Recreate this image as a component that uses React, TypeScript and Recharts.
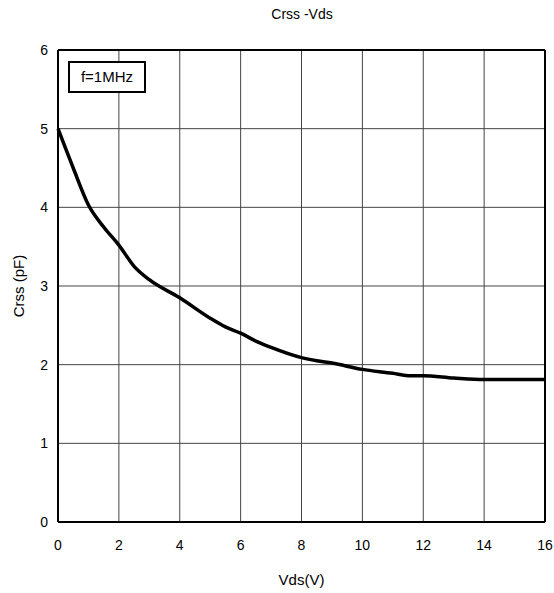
import { LineChart, Line, XAxis, YAxis, CartesianGrid, ReferenceLine, Label } from 'recharts';

const vds = [0, 0.5, 1, 1.5, 2, 2.5, 3, 4, 5, 5.5, 6, 6.5, 7, 8, 8.5, 9, 10, 11, 11.5, 12, 13, 14, 15, 16];
const crss = [5.0, 4.5, 4.03, 3.75, 3.52, 3.25, 3.08, 2.85, 2.59, 2.48, 2.4, 2.3, 2.22, 2.09, 2.05, 2.02, 1.94, 1.89, 1.86, 1.86, 1.83, 1.81, 1.81, 1.81];
const xTicks = [0, 2, 4, 6, 8, 10, 12, 14, 16];
const yTicks = [0, 1, 2, 3, 4, 5, 6];

const data = vds.map((v, i) => ({ vds: v, crss: crss[i] }));

const font = '"Liberation Sans", Arial, sans-serif';
const tickStyle = { fontSize: 14, fill: '#000', fontFamily: font };

export default function App() {
  return (
    <div style={{ position: 'absolute', left: 0, top: 0, width: 554, height: 593, background: '#fff', fontFamily: font }}>
      <div style={{ position: 'absolute', left: 0, width: 554, top: 6, paddingLeft: 50, boxSizing: 'border-box', textAlign: 'center', fontSize: 14 }}>
        Crss -Vds
      </div>
      <LineChart width={554} height={593} data={data} margin={{ top: 50, right: 9, bottom: 0, left: 0 }}>
        <CartesianGrid stroke="#444" strokeWidth={1} verticalValues={xTicks} horizontalValues={yTicks} />
        <XAxis
          dataKey="vds"
          type="number"
          domain={[0, 16]}
          ticks={xTicks}
          tickLine={false}
          tickSize={0}
          tickMargin={18}
          height={71}
          stroke="#000"
          strokeWidth={2}
          tick={tickStyle}
        >
          <Label value="Vds(V)" position="insideBottom" offset={8} style={{ fontSize: 15, fill: '#000', fontFamily: font }} />
        </XAxis>
        <YAxis
          type="number"
          domain={[0, 6]}
          ticks={yTicks}
          tickLine={false}
          tickSize={0}
          tickMargin={10}
          width={58}
          stroke="#000"
          strokeWidth={2}
          tick={tickStyle}
        >
          <Label value="Crss (pF)" angle={-90} position="insideLeft" offset={19} style={{ fontSize: 15, fill: '#000', fontFamily: font, textAnchor: 'middle' }} />
        </YAxis>
        <ReferenceLine y={6} stroke="#000" strokeWidth={2} />
        <ReferenceLine x={16} stroke="#000" strokeWidth={2} />
        <Line dataKey="crss" type="monotone" stroke="#000" strokeWidth={3.5} dot={false} isAnimationActive={false} />
      </LineChart>
      <div style={{ position: 'absolute', left: 68, top: 61, width: 74, height: 28, border: '2px solid #000', background: '#fff', fontSize: 15, lineHeight: '28px', textAlign: 'center' }}>
        f=1MHz
      </div>
    </div>
  );
}
